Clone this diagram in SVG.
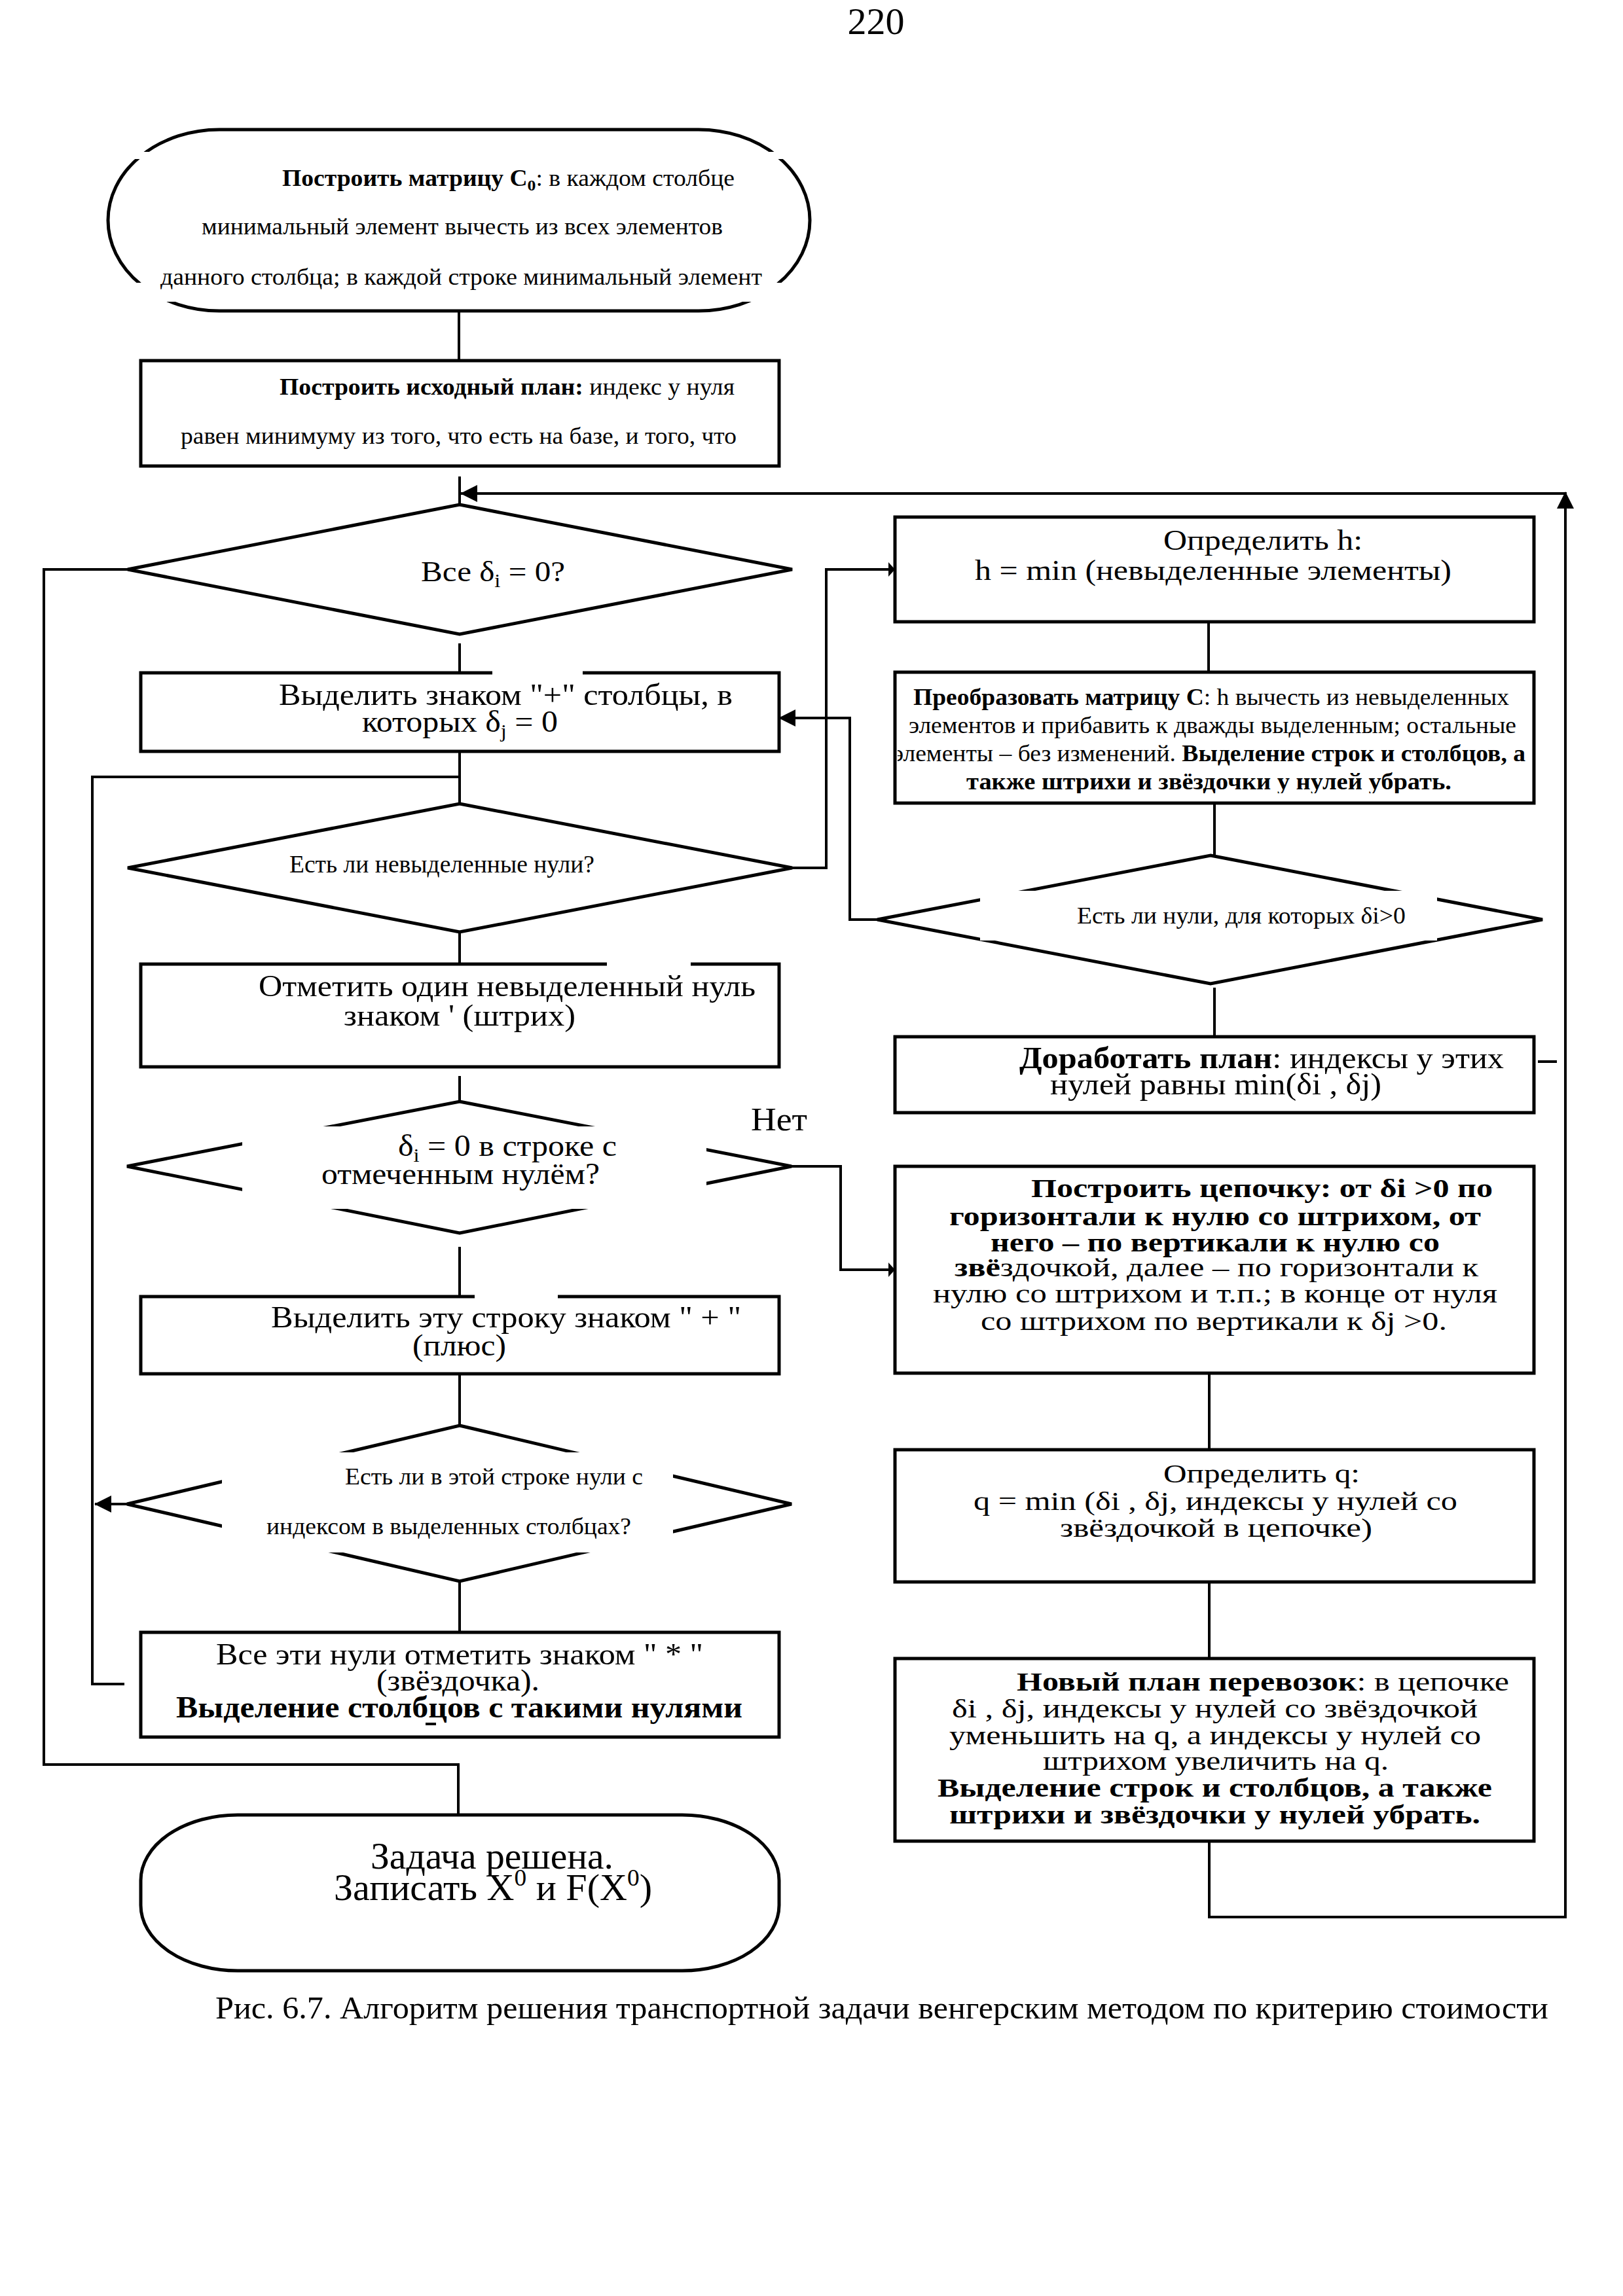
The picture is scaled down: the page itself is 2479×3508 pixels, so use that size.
<svg xmlns="http://www.w3.org/2000/svg" width="2479" height="3508" viewBox="0 0 2479 3508">
<style>
.s{fill:#fff;stroke:#000;stroke-width:5}
.c{fill:none;stroke:#000;stroke-width:4}
.w{fill:#fff;stroke:none}
text{font-family:"Liberation Serif","Times New Roman",serif;fill:#000}
.b{font-weight:bold}
</style>
<defs>
<marker id="ah" markerUnits="userSpaceOnUse" markerWidth="26" markerHeight="26" refX="25" refY="13" orient="auto" viewBox="0 0 26 26"><path d="M0,0 L26,13 L0,26 Z" fill="#000"/></marker>
<marker id="as" markerUnits="userSpaceOnUse" markerWidth="10" markerHeight="22" refX="9" refY="11" orient="auto" viewBox="0 0 10 22"><path d="M0,0 L10,11 L0,22 Z" fill="#000"/></marker>
<clipPath id="clipP"><rect x="1371" y="1030" width="970" height="182"/></clipPath>
</defs>
<rect width="2479" height="3508" fill="#fff"/>
<text x="1338" y="52" font-size="58" text-anchor="middle">220</text>

<g id="connectors">
<path class="c" d="M701,475 V551"/>
<path class="c" d="M702,728 V771"/>
<path class="c" d="M702,983 V1028"/>
<path class="c" d="M702,1148 V1228"/>
<path class="c" d="M702,1424 V1473"/>
<path class="c" d="M702,1644 V1683"/>
<path class="c" d="M702,1905 V1981"/>
<path class="c" d="M702,2099 V2178"/>
<path class="c" d="M702,2416 V2494"/>
<path class="c" d="M1846,950 V1027"/>
<path class="c" d="M1855,1227 V1307"/>
<path class="c" d="M1855,1509 V1584"/>
<path class="c" d="M1847,2098 V2215"/>
<path class="c" d="M1847,2417 V2534"/>
<path class="c" d="M195,870 H67 V2696 H700 V2773"/>
<path class="c" d="M190,2573 H141 V1187 H702"/>
<path class="c" d="M194,2298 H145" marker-end="url(#ah)"/>
<path class="c" d="M1210,1326 H1262 V870 H1366" marker-end="url(#as)"/>
<path class="c" d="M1209,1782 H1284 V1940 H1366" marker-end="url(#as)"/>
<path class="c" d="M1340,1405 H1298 V1097 H1190" marker-end="url(#ah)"/>
<path class="c" d="M1847,2813 V2929 H2391 V752" marker-end="url(#ah)"/>
<path class="c" d="M2391,754 H704" marker-end="url(#ah)"/>
<path class="c" d="M2349,1622 H2378"/>
</g>

<g id="start">
<path class="s" d="M335,198 H1067 A170,138.5 0 0 1 1067,475 H335 A170,138.5 0 0 1 335,198 Z"/>
<rect class="w" x="150" y="232" width="1100" height="11"/>
<rect class="w" x="150" y="432" width="1100" height="29"/>
<text x="431" y="284" font-size="35" textLength="691" lengthAdjust="spacingAndGlyphs"><tspan class="b">Построить матрицу C</tspan><tspan class="b" font-size="24" dy="7">0</tspan><tspan dy="-7">: в каждом столбце</tspan></text>
<text x="308" y="358" font-size="35" textLength="796" lengthAdjust="spacingAndGlyphs">минимальный элемент вычесть из всех элементов</text>
<text x="245" y="435" font-size="35" textLength="919" lengthAdjust="spacingAndGlyphs">данного столбца; в каждой строке минимальный элемент</text>
</g>

<g id="plan0">
<rect class="s" x="215" y="551" width="975" height="161"/>
<text x="427" y="603" font-size="35" textLength="695" lengthAdjust="spacingAndGlyphs"><tspan class="b">Построить исходный план:</tspan> индекс у нуля</text>
<text x="276" y="678" font-size="35" textLength="849" lengthAdjust="spacingAndGlyphs">равен минимуму из того, что есть на базе, и того, что</text>
</g>

<g id="d_all">
<polygon class="s" points="702,771 1210,870 702,969 195,870"/>
<text x="643" y="888" font-size="45" textLength="220" lengthAdjust="spacingAndGlyphs">Все δ<tspan font-size="30" dy="9">i</tspan><tspan dy="-9"> = 0?</tspan></text>
</g>

<g id="mark_cols">
<rect class="s" x="215" y="1028" width="975" height="120"/>
<rect class="w" x="752" y="1023" width="138" height="9"/>
<text x="426" y="1077" font-size="46" textLength="693" lengthAdjust="spacingAndGlyphs">Выделить знаком "+" столбцы, в</text>
<text x="553" y="1118" font-size="46" textLength="299" lengthAdjust="spacingAndGlyphs">которых δ<tspan font-size="30" dy="9">j</tspan><tspan dy="-9"> = 0</tspan></text>
</g>

<g id="d_unmarked">
<polygon class="s" points="702,1228 1210,1326 702,1424 195,1326"/>
<text x="442" y="1333" font-size="38" textLength="466" lengthAdjust="spacingAndGlyphs">Есть ли невыделенные нули?</text>
</g>

<g id="prime">
<rect class="s" x="215" y="1473" width="975" height="157"/>
<rect class="w" x="927" y="1468" width="128" height="9"/>
<text x="395" y="1522" font-size="46" textLength="759" lengthAdjust="spacingAndGlyphs">Отметить один невыделенный нуль</text>
<text x="525" y="1567" font-size="46" textLength="354" lengthAdjust="spacingAndGlyphs">знаком ' (штрих)</text>
</g>

<g id="d_row">
<polygon class="s" points="702,1683 1209,1782 702,1884 194,1782"/>
<rect class="w" x="370" y="1721" width="709" height="126"/>
<text x="608" y="1766" font-size="46" textLength="334" lengthAdjust="spacingAndGlyphs">δ<tspan font-size="30" dy="9">i</tspan><tspan dy="-9"> = 0 в строке с</tspan></text>
<text x="491" y="1809" font-size="46" textLength="425" lengthAdjust="spacingAndGlyphs">отмеченным нулём?</text>
<text x="1147" y="1727" font-size="50" textLength="86" lengthAdjust="spacingAndGlyphs">Нет</text>
</g>

<g id="mark_row">
<rect class="s" x="215" y="1981" width="975" height="118"/>
<rect class="w" x="725" y="1976" width="127" height="9"/>
<text x="414" y="2028" font-size="46" textLength="718" lengthAdjust="spacingAndGlyphs">Выделить эту строку знаком " + "</text>
<text x="630" y="2071" font-size="46" textLength="143" lengthAdjust="spacingAndGlyphs">(плюс)</text>
</g>

<g id="d_cols">
<polygon class="s" points="702,2178 1209,2298 702,2416 194,2298"/>
<rect class="w" x="339" y="2219" width="689" height="153"/>
<text x="527" y="2268" font-size="36" textLength="455" lengthAdjust="spacingAndGlyphs">Есть ли в этой строке нули с</text>
<text x="407" y="2344" font-size="36" textLength="557" lengthAdjust="spacingAndGlyphs">индексом в выделенных столбцах?</text>
</g>

<g id="star">
<rect class="s" x="215" y="2494" width="975" height="160"/>
<text x="330" y="2543" font-size="46" textLength="744" lengthAdjust="spacingAndGlyphs">Все эти нули отметить знаком " * "</text>
<text x="575" y="2583" font-size="46" textLength="249" lengthAdjust="spacingAndGlyphs">(звёздочка).</text>
<text class="b" x="269" y="2624" font-size="46" textLength="865" lengthAdjust="spacingAndGlyphs">Выделение столбцов с такими нулями</text>
<rect x="650" y="2632" width="16" height="4" fill="#000"/>
</g>

<g id="end">
<rect class="s" x="215" y="2773" width="975" height="238" rx="148" ry="100"/>
<text x="566" y="2855" font-size="56" textLength="371" lengthAdjust="spacingAndGlyphs">Задача решена.</text>
<text x="510" y="2903" font-size="56" textLength="486" lengthAdjust="spacingAndGlyphs">Записать X<tspan font-size="36" dy="-22">0</tspan><tspan dy="22"> и F(X</tspan><tspan font-size="36" dy="-22">0</tspan><tspan dy="22">)</tspan></text>
</g>

<g id="h_def">
<rect class="s" x="1367" y="790" width="976" height="160"/>
<text x="1777" y="840" font-size="45" textLength="304" lengthAdjust="spacingAndGlyphs">Определить h:</text>
<text x="1489" y="886" font-size="45" textLength="728" lengthAdjust="spacingAndGlyphs">h = min (невыделенные элементы)</text>
</g>

<g id="transform">
<rect class="s" x="1367" y="1027" width="976" height="200"/>
<g clip-path="url(#clipP)">
<text x="1395" y="1077" font-size="35" textLength="910" lengthAdjust="spacingAndGlyphs"><tspan class="b">Преобразовать матрицу C</tspan>: h вычесть из невыделенных</text>
<text x="1388" y="1120" font-size="35" textLength="928" lengthAdjust="spacingAndGlyphs">элементов и прибавить к дважды выделенным; остальные</text>
<text x="1364" y="1163" font-size="35" textLength="966" lengthAdjust="spacingAndGlyphs">элементы – без изменений. <tspan class="b">Выделение строк и столбцов, а</tspan></text>
<text class="b" x="1476" y="1206" font-size="35" textLength="741" lengthAdjust="spacingAndGlyphs">также штрихи и звёздочки у нулей убрать.</text>
</g>
</g>

<g id="d_pos">
<polygon class="s" points="1849,1307 2356,1405 1849,1503 1340,1405"/>
<rect class="w" x="1497" y="1361" width="698" height="76"/>
<text x="1645" y="1411" font-size="36" textLength="502" lengthAdjust="spacingAndGlyphs">Есть ли нули, для которых δi&gt;0</text>
</g>

<g id="improve">
<rect class="s" x="1367" y="1584" width="976" height="116"/>
<text x="1557" y="1632" font-size="46" textLength="740" lengthAdjust="spacingAndGlyphs"><tspan class="b">Доработать план</tspan>: индексы у этих</text>
<text x="1604" y="1672" font-size="46" textLength="506" lengthAdjust="spacingAndGlyphs">нулей равны min(δi , δj)</text>
</g>

<g id="chain">
<rect class="s" x="1367" y="1782" width="976" height="316"/>
<text class="b" x="1575" y="1829" font-size="40" textLength="705" lengthAdjust="spacingAndGlyphs">Построить цепочку: от δi &gt;0 по</text>
<text class="b" x="1450" y="1872" font-size="40" textLength="812" lengthAdjust="spacingAndGlyphs">горизонтали к нулю со штрихом, от</text>
<text class="b" x="1513" y="1912" font-size="40" textLength="686" lengthAdjust="spacingAndGlyphs">него – по вертикали к нулю со</text>
<text x="1458" y="1950" font-size="40" textLength="800" lengthAdjust="spacingAndGlyphs"><tspan class="b">звё</tspan>здочкой, далее – по горизонтали к</text>
<text x="1425" y="1990" font-size="40" textLength="862" lengthAdjust="spacingAndGlyphs">нулю со штрихом и т.п.; в конце от нуля</text>
<text x="1498" y="2032" font-size="40" textLength="712" lengthAdjust="spacingAndGlyphs">со штрихом по вертикали к δj &gt;0.</text>
</g>

<g id="q_def">
<rect class="s" x="1367" y="2215" width="976" height="202"/>
<text x="1777" y="2265" font-size="40" textLength="300" lengthAdjust="spacingAndGlyphs">Определить q:</text>
<text x="1487" y="2307" font-size="40" textLength="739" lengthAdjust="spacingAndGlyphs">q = min (δi , δj, индексы у нулей со</text>
<text x="1619" y="2348" font-size="40" textLength="477" lengthAdjust="spacingAndGlyphs">звёздочкой в цепочке)</text>
</g>

<g id="new_plan">
<rect class="s" x="1367" y="2534" width="976" height="279"/>
<text x="1553" y="2583" font-size="40" textLength="752" lengthAdjust="spacingAndGlyphs"><tspan class="b">Новый план перевозок</tspan>: в цепочке</text>
<text x="1454" y="2624" font-size="40" textLength="803" lengthAdjust="spacingAndGlyphs">δi , δj, индексы у нулей со звёздочкой</text>
<text x="1450" y="2665" font-size="40" textLength="812" lengthAdjust="spacingAndGlyphs">уменьшить на q, а индексы у нулей со</text>
<text x="1593" y="2704" font-size="40" textLength="528" lengthAdjust="spacingAndGlyphs">штрихом увеличить на q.</text>
<text class="b" x="1432" y="2745" font-size="40" textLength="847" lengthAdjust="spacingAndGlyphs">Выделение строк и столбцов, а также</text>
<text class="b" x="1450" y="2786" font-size="40" textLength="811" lengthAdjust="spacingAndGlyphs">штрихи и звёздочки у нулей убрать.</text>
</g>

<text x="329" y="3084" font-size="48" textLength="2036" lengthAdjust="spacingAndGlyphs">Рис. 6.7. Алгоритм решения транспортной задачи венгерским методом по критерию стоимости</text>
</svg>
